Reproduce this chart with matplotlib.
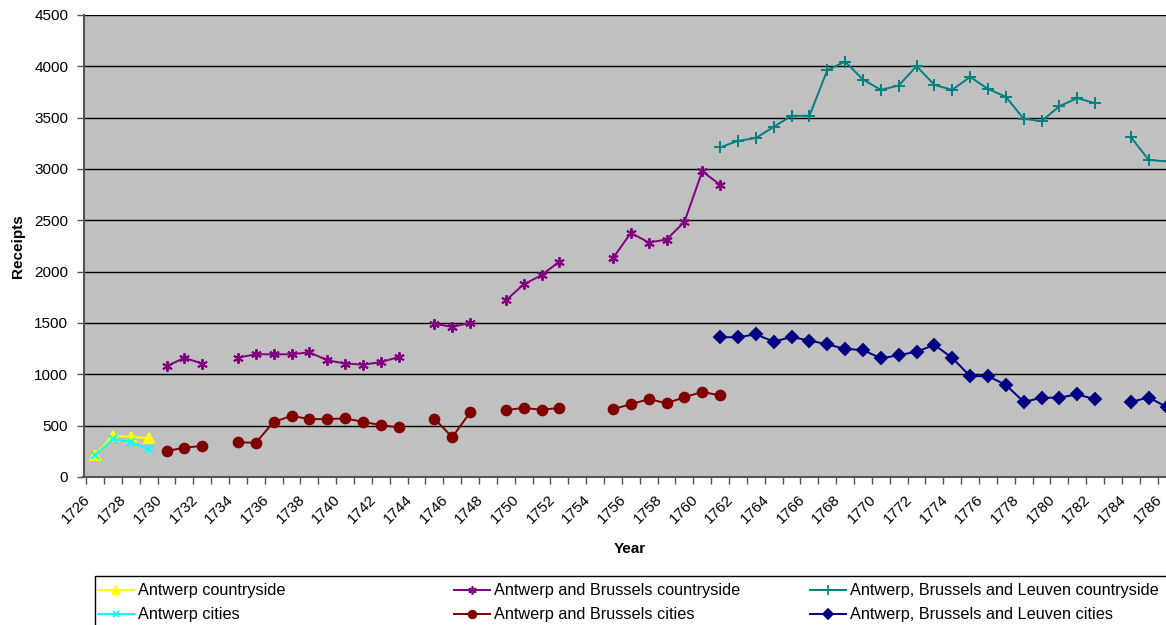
import numpy as np
import matplotlib.pyplot as plt
from matplotlib.lines import Line2D
from matplotlib.patches import Rectangle

plt.rcParams['font.family'] = ['Liberation Sans', 'DejaVu Sans']

# receipts per year; None = no data for that year
years_antwerp = list(range(1726, 1730))
antwerp_countryside = [215, 400, 392, 378]
antwerp_cities = [212, 370, 340, 268]

years_ab = list(range(1730, 1762))
ab_countryside = [1079, 1160, 1105, None, 1163, 1195, 1195, 1195, 1215, 1137,
                  1105, 1095, 1118, 1169, None, 1494, 1461, 1503, None, 1720,
                  1876, 1966, 2099, None, None, 2131, 2378, 2284, 2313, 2485,
                  2977, 2847]
ab_cities = [253, 285, 304, None, 337, 334, 535, 596, 564, 564,
             570, 538, 505, 483, None, 568, 388, 629, None, 651,
             674, 654, 674, None, None, 661, 709, 758, 719, 777,
             829, 794]

years_abl = list(range(1761, 1787))
abl_countryside = [3210, 3275, 3301, 3411, 3518, 3518, 3962, 4046, 3871, 3771,
                   3813, 4001, 3819, 3771, 3897, 3780, 3703, 3489, 3466, 3612,
                   3690, 3641, None, 3311, 3088, 3074]
abl_cities = [1361, 1361, 1390, 1318, 1364, 1328, 1293, 1247, 1237, 1156,
              1186, 1221, 1286, 1160, 982, 982, 897, 732, 771, 774,
              804, 758, None, 732, 774, 683]

label_years = list(range(1726, 1787, 2))


def arr(vals):
    return np.array([np.nan if v is None else v for v in vals], dtype=float)


W, H = 1166, 625
fig = plt.figure(figsize=(W / 100, H / 100), dpi=100)
ax = fig.add_axes([83.5 / W, 148 / H, 1092 / W, 462 / H])
ax.set_facecolor('#C0C0C0')

series = [
    (years_antwerp, antwerp_countryside, '#FFFF00', '^', 7, 'Antwerp countryside'),
    (years_antwerp, antwerp_cities, '#00FFFF', 'x', 6, 'Antwerp cities'),
    (years_ab, ab_countryside, '#800080', (6, 2, 0), 7.5, 'Antwerp and Brussels countryside'),
    (years_ab, ab_cities, '#800000', 'o', 7, 'Antwerp and Brussels cities'),
    (years_abl, abl_countryside, '#008080', '+', 8.5, 'Antwerp, Brussels and Leuven countryside'),
    (years_abl, abl_cities, '#000080', 'D', 6, 'Antwerp, Brussels and Leuven cities'),
]
for yrs, vals, col, mk, ms, lab in series:
    ax.plot(yrs, arr(vals), color=col, marker=mk, markersize=ms, lw=1.4,
            markeredgewidth=1.4, zorder=3)

ax.set_ylim(0, 4500)
ax.set_yticks(range(0, 4501, 500))
ax.yaxis.grid(True, color='black', lw=1, zorder=1)
ax.set_axisbelow(True)

# tick marks sit between categories; rotated labels end just left of each category
ax.set_xlim(1725.5, 1786.5)
ax.set_xticks(np.arange(1725.5, 1787, 1), minor=True)
ax.set_xticks([y - 0.65 for y in label_years])
ax.set_xticklabels([str(y) for y in label_years], rotation=45,
                   ha='right', va='top', rotation_mode='anchor')
ax.tick_params(axis='x', which='major', length=0, pad=11, labelsize=11)
ax.tick_params(axis='x', which='minor', length=5, width=1, color='#555555')
ax.tick_params(axis='y', length=5, width=1, color='#555555', labelsize=11, pad=6)

for s in ['top', 'right']:
    ax.spines[s].set_visible(False)
for s in ['left', 'bottom']:
    ax.spines[s].set_color('#555555')
    ax.spines[s].set_linewidth(1.5)

ax.set_ylabel('Receipts', fontsize=11, fontweight='bold')
ax.yaxis.set_label_coords((25 - 83.5) / 1092, 0.5)
ax.set_xlabel('Year', fontsize=11, fontweight='bold')
ax.xaxis.set_label_coords(0.5, -(542 - 477) / 462)

# legend: framed box with three evenly spaced columns
fig.add_artist(Rectangle((95 / W, -0.05), 1.1, (H - 576) / H + 0.05,
                         transform=fig.transFigure, facecolor='white',
                         edgecolor='black', lw=1, zorder=5))
col_x = [95, 451, 807]
for i, x0 in enumerate(col_x):
    sub = series[i * 2:i * 2 + 2]
    handles = [Line2D([], [], color=c, marker=m, markersize=ms * 0.8, lw=1.4,
                      markeredgewidth=1.2) for _, _, c, m, ms, _ in sub]
    leg = fig.legend(handles, [s[5] for s in sub], loc='upper left',
                     bbox_to_anchor=(x0 / W, 1 - 580 / H), frameon=False,
                     fontsize=11.7, handlelength=2.2, handletextpad=0.25,
                     borderaxespad=0, borderpad=0.2, labelspacing=0.55)
    leg.set_zorder(6)

fig.savefig('out.png', dpi=100)
